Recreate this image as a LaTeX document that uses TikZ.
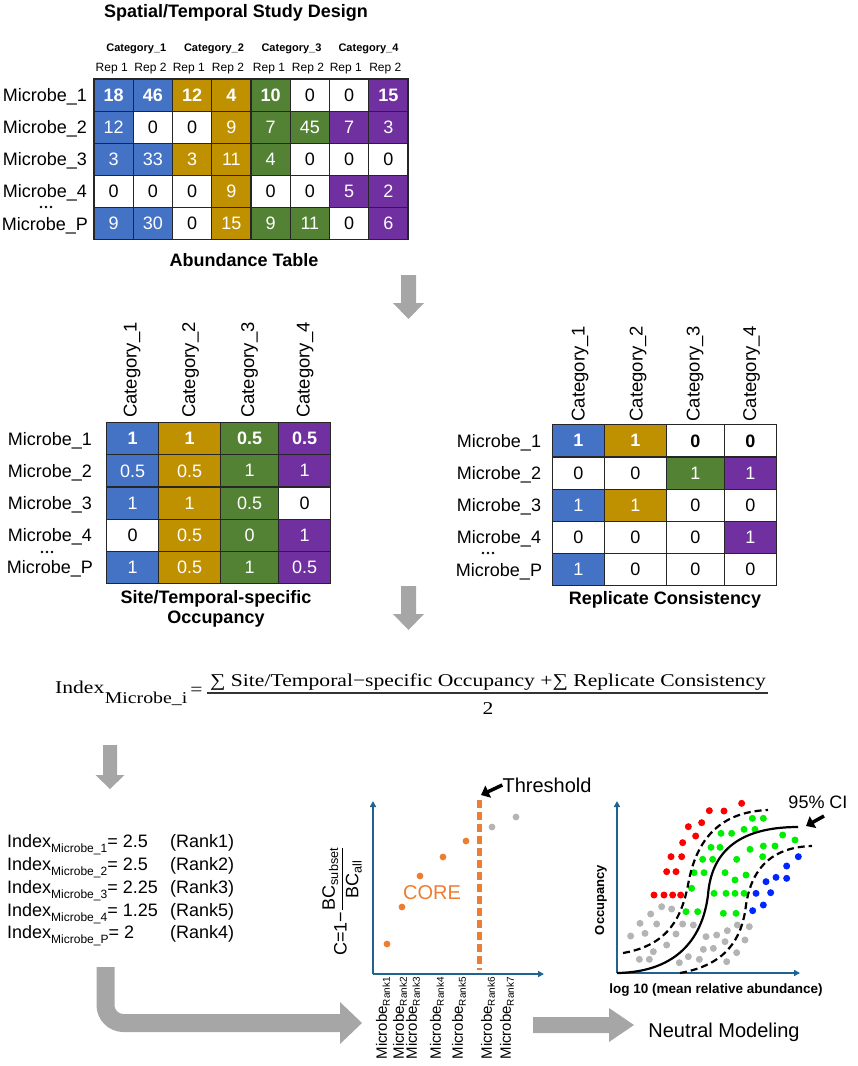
\documentclass[tikz,border=0pt]{standalone}
\usepackage{fontspec}
\usepackage{amsmath}
\setmainfont{Liberation Sans}
\newfontfamily\formulafont[FakeStretch=1.2]{Liberation Serif}
\usetikzlibrary{arrows.meta}

\definecolor{catblue}{HTML}{4472C4}
\definecolor{catgold}{HTML}{BF9000}
\definecolor{catgreen}{HTML}{548235}
\definecolor{catpurple}{HTML}{7030A0}
\definecolor{coreorange}{HTML}{ED7D31}
\definecolor{axisblue}{HTML}{1F6391}
\definecolor{arrowgrey}{HTML}{A6A6A6}
\definecolor{dotgrey}{HTML}{B4B4B4}
\definecolor{dotred}{HTML}{FF0000}
\definecolor{dotgreen}{HTML}{00EE00}
\definecolor{dotblue}{HTML}{0026FF}

\newcommand{\fsz}[1]{\fontsize{#1}{#1}\selectfont}
\newcommand{\idxsub}[1]{\raisebox{-5pt}{\fsz{12}#1}}
\newcommand{\ranksub}[1]{\raisebox{-3pt}{\fsz{10}#1}}

\begin{document}
\begin{tikzpicture}[x=1pt, y=-1pt,
    cell/.style={draw=black!85, line width=1.2pt, inner sep=0pt, text=white, font=\fsz{18}},
    topcell/.style={cell, minimum width=39.25, minimum height=32.1},
    colA/.style={cell, minimum width=52, minimum height=32.2},
    colB/.style={cell, minimum width=62, minimum height=32.2},
    colC/.style={cell, minimum width=58, minimum height=32.2},
    colD/.style={cell, minimum width=52, minimum height=32.2},
    blu/.style={fill=catblue},
    gld/.style={fill=catgold},
    grn/.style={fill=catgreen},
    pur/.style={fill=catpurple},
    wht/.style={fill=white, text=black},
    bld/.style={font=\fsz{18}\bfseries},
    lbl/.style={inner sep=0pt, font=\fsz{18}, anchor=base},
    caption/.style={inner sep=0pt, font=\fsz{18}\bfseries, anchor=base},
    smallhead/.style={inner sep=0pt, font=\fsz{11}\bfseries, anchor=base},
    replab/.style={inner sep=0pt, font=\fsz{12}, anchor=base},
    vhead/.style={inner sep=0pt, font=\fsz{18.5}, rotate=90, anchor=west},
    frm/.style={inner sep=0pt, font=\formulafont\fsz{18}},
    blockarrow/.style={fill=arrowgrey},
    plotaxis/.style={draw=axisblue, line width=1.5pt, -{Triangle[length=6pt,width=6pt]}},
    pointer/.style={line width=3.5pt, -{Triangle[length=8pt,width=13pt]}},
    ranklab/.style={inner sep=0pt, font=\fsz{15}, rotate=90, anchor=east}]

    \useasboundingbox (0,0) rectangle (858,1066);

    % abundance table
    \node[caption] (title) at (236,17) {Spatial/Temporal Study Design};

    \node[smallhead] (cat1) at (136.3,51) {Category\_1};
    \node[smallhead] (cat2) at (214,51) {Category\_2};
    \node[smallhead] (cat3) at (291.5,51) {Category\_3};
    \node[smallhead] (cat4) at (368.5,51) {Category\_4};

    \node[replab] (rep11) at (111.7,71) {Rep 1};
    \node[replab] (rep12) at (150.5,71) {Rep 2};
    \node[replab] (rep21) at (188.8,71) {Rep 1};
    \node[replab] (rep22) at (228,71) {Rep 2};
    \node[replab] (rep31) at (269,71) {Rep 1};
    \node[replab] (rep32) at (308,71) {Rep 2};
    \node[replab] (rep41) at (345.8,71) {Rep 1};
    \node[replab] (rep42) at (385.3,71) {Rep 2};

    \node[lbl] (ra1) at (45,101.5) {Microbe\_1};
    \node[lbl] (ra2) at (45,133.6) {Microbe\_2};
    \node[lbl] (ra3) at (45,165.8) {Microbe\_3};
    \node[lbl] (ra4) at (45,197.9) {Microbe\_4};
    \fill (41,207) circle (1.4) (46,207) circle (1.4) (51,207) circle (1.4);
    \node[lbl] (ra5) at (45,230) {Microbe\_P};

    \node[topcell, blu, bld] (t11) at (113.6,95.05) {18};
    \node[topcell, blu, bld] (t12) at (152.9,95.05) {46};
    \node[topcell, gld, bld] (t13) at (192.1,95.05) {12};
    \node[topcell, gld, bld] (t14) at (231.4,95.05) {4};
    \node[topcell, grn, bld] (t15) at (270.6,95.05) {10};
    \node[topcell, wht] (t16) at (309.9,95.05) {0};
    \node[topcell, wht] (t17) at (349.1,95.05) {0};
    \node[topcell, pur, bld] (t18) at (388.4,95.05) {15};

    \node[topcell, blu] (t21) at (113.6,127.15) {12};
    \node[topcell, wht] (t22) at (152.9,127.15) {0};
    \node[topcell, wht] (t23) at (192.1,127.15) {0};
    \node[topcell, gld] (t24) at (231.4,127.15) {9};
    \node[topcell, grn] (t25) at (270.6,127.15) {7};
    \node[topcell, grn] (t26) at (309.9,127.15) {45};
    \node[topcell, pur] (t27) at (349.1,127.15) {7};
    \node[topcell, pur] (t28) at (388.4,127.15) {3};

    \node[topcell, blu] (t31) at (113.6,159.25) {3};
    \node[topcell, blu] (t32) at (152.9,159.25) {33};
    \node[topcell, gld] (t33) at (192.1,159.25) {3};
    \node[topcell, gld] (t34) at (231.4,159.25) {11};
    \node[topcell, grn] (t35) at (270.6,159.25) {4};
    \node[topcell, wht] (t36) at (309.9,159.25) {0};
    \node[topcell, wht] (t37) at (349.1,159.25) {0};
    \node[topcell, wht] (t38) at (388.4,159.25) {0};

    \node[topcell, wht] (t41) at (113.6,191.35) {0};
    \node[topcell, wht] (t42) at (152.9,191.35) {0};
    \node[topcell, wht] (t43) at (192.1,191.35) {0};
    \node[topcell, gld] (t44) at (231.4,191.35) {9};
    \node[topcell, wht] (t45) at (270.6,191.35) {0};
    \node[topcell, wht] (t46) at (309.9,191.35) {0};
    \node[topcell, pur] (t47) at (349.1,191.35) {5};
    \node[topcell, pur] (t48) at (388.4,191.35) {2};

    \node[topcell, blu] (t51) at (113.6,223.45) {9};
    \node[topcell, blu] (t52) at (152.9,223.45) {30};
    \node[topcell, wht] (t53) at (192.1,223.45) {0};
    \node[topcell, gld] (t54) at (231.4,223.45) {15};
    \node[topcell, grn] (t55) at (270.6,223.45) {9};
    \node[topcell, grn] (t56) at (309.9,223.45) {11};
    \node[topcell, wht] (t57) at (349.1,223.45) {0};
    \node[topcell, pur] (t58) at (388.4,223.45) {6};

    \node[caption] (abund) at (244,266) {Abundance Table};

    \fill[blockarrow] (401,275) -- (416,275) -- (416,303) -- (424,303) -- (408.5,319) -- (393,303) -- (401,303) -- cycle;

    % occupancy table
    \node[vhead] (oh1) at (132,418) {Category\_1};
    \node[vhead] (oh2) at (190.5,418) {Category\_2};
    \node[vhead] (oh3) at (249.5,418) {Category\_3};
    \node[vhead] (oh4) at (305,418) {Category\_4};

    \node[lbl] (rb1) at (50,445.1) {Microbe\_1};
    \node[lbl] (rb2) at (50,477.3) {Microbe\_2};
    \node[lbl] (rb3) at (50,509.5) {Microbe\_3};
    \node[lbl] (rb4) at (50,541.7) {Microbe\_4};
    \fill (42,552) circle (1.4) (47,552) circle (1.4) (52,552) circle (1.4);
    \node[lbl] (rb5) at (50,573.9) {Microbe\_P};

    \node[colA, blu, bld] (o11) at (132.7,438.6) {1};
    \node[colB, gld, bld] (o12) at (189.7,438.6) {1};
    \node[colC, grn, bld] (o13) at (249.7,438.6) {0.5};
    \node[colD, pur, bld] (o14) at (304.7,438.6) {0.5};
    \node[colA, blu] (o21) at (132.7,470.8) {0.5};
    \node[colB, gld] (o22) at (189.7,470.8) {0.5};
    \node[colC, grn] (o23) at (249.7,470.8) {1};
    \node[colD, pur] (o24) at (304.7,470.8) {1};
    \node[colA, blu] (o31) at (132.7,503) {1};
    \node[colB, gld] (o32) at (189.7,503) {1};
    \node[colC, grn] (o33) at (249.7,503) {0.5};
    \node[colD, wht] (o34) at (304.7,503) {0};
    \node[colA, wht] (o41) at (132.7,535.2) {0};
    \node[colB, gld] (o42) at (189.7,535.2) {0.5};
    \node[colC, grn] (o43) at (249.7,535.2) {0};
    \node[colD, pur] (o44) at (304.7,535.2) {1};
    \node[colA, blu] (o51) at (132.7,567.4) {1};
    \node[colB, gld] (o52) at (189.7,567.4) {0.5};
    \node[colC, grn] (o53) at (249.7,567.4) {1};
    \node[colD, pur] (o54) at (304.7,567.4) {0.5};

    \node[caption, anchor=center, align=center, font=\fontsize{18}{20.5}\selectfont\bfseries] (occ) at (216,609) {Site/Temporal-specific\\Occupancy};

    % replicate table
    \node[vhead] (ph1) at (580,421.7) {Category\_1};
    \node[vhead] (ph2) at (638,421.7) {Category\_2};
    \node[vhead] (ph3) at (695,421.7) {Category\_3};
    \node[vhead] (ph4) at (751.7,421.7) {Category\_4};

    \node[lbl] (rc1) at (499,447.3) {Microbe\_1};
    \node[lbl] (rc2) at (499,479.5) {Microbe\_2};
    \node[lbl] (rc3) at (499,511.7) {Microbe\_3};
    \node[lbl] (rc4) at (499,543.9) {Microbe\_4};
    \fill (483,553) circle (1.4) (488,553) circle (1.4) (493,553) circle (1.4);
    \node[lbl] (rc5) at (499,576.1) {Microbe\_P};

    \node[colA, blu, bld] (p11) at (578.3,440.8) {1};
    \node[colB, gld, bld] (p12) at (635.3,440.8) {1};
    \node[colC, wht, bld] (p13) at (695.3,440.8) {0};
    \node[colD, wht, bld] (p14) at (750.3,440.8) {0};
    \node[colA, wht] (p21) at (578.3,473) {0};
    \node[colB, wht] (p22) at (635.3,473) {0};
    \node[colC, grn] (p23) at (695.3,473) {1};
    \node[colD, pur] (p24) at (750.3,473) {1};
    \node[colA, blu] (p31) at (578.3,505.2) {1};
    \node[colB, gld] (p32) at (635.3,505.2) {1};
    \node[colC, wht] (p33) at (695.3,505.2) {0};
    \node[colD, wht] (p34) at (750.3,505.2) {0};
    \node[colA, wht] (p41) at (578.3,537.4) {0};
    \node[colB, wht] (p42) at (635.3,537.4) {0};
    \node[colC, wht] (p43) at (695.3,537.4) {0};
    \node[colD, pur] (p44) at (750.3,537.4) {1};
    \node[colA, blu] (p51) at (578.3,569.6) {1};
    \node[colB, wht] (p52) at (635.3,569.6) {0};
    \node[colC, wht] (p53) at (695.3,569.6) {0};
    \node[colD, wht] (p54) at (750.3,569.6) {0};

    \node[caption] (repcons) at (665,604.5) {Replicate Consistency};

    \fill[blockarrow] (401,586) -- (416,586) -- (416,614) -- (424,614) -- (408.5,630) -- (393,614) -- (401,614) -- cycle;

    % index formula
    \node[frm, anchor=base west] (idx) at (55,693) {Index};
    \node[frm, anchor=base west, font=\formulafont\fsz{16.5}] (idxsub) at ([yshift=-10pt]idx.base east) {Microbe\_i};
    \node[frm] (eq) at (196.5,691) {=};
    \coordinate (barL) at (207,693);
    \coordinate (barR) at (768,693);
    \draw[line width=1.3pt, black!80] (barL) -- (barR);
    \node[frm, anchor=base] (num) at (488,686) {∑ Site/Temporal−specific Occupancy +∑ Replicate Consistency};
    \node[frm, anchor=base] (den) at (488,714) {2};

    \fill[blockarrow] (103,745) -- (117,745) -- (117,775) -- (124.5,775) -- (110,789) -- (95.5,775) -- (103,775) -- cycle;

    % ranking
    \node[lbl, anchor=base west] (i1) at (7,847) {Index\idxsub{Microbe\_1}= 2.5};
    \node[lbl, anchor=base west] (i2) at (7,870) {Index\idxsub{Microbe\_2}= 2.5};
    \node[lbl, anchor=base west] (i3) at (7,893) {Index\idxsub{Microbe\_3}= 2.25};
    \node[lbl, anchor=base west] (i4) at (7,916) {Index\idxsub{Microbe\_4}= 1.25};
    \node[lbl, anchor=base west] (i5) at (7,938) {Index\idxsub{Microbe\_P}= 2};
    \node[lbl, anchor=base west] (k1) at (170,847) {(Rank1)};
    \node[lbl, anchor=base west] (k2) at (170,870) {(Rank2)};
    \node[lbl, anchor=base west] (k3) at (170,893) {(Rank3)};
    \node[lbl, anchor=base west] (k4) at (170,916) {(Rank5)};
    \node[lbl, anchor=base west] (k5) at (170,938) {(Rank4)};

    \draw[draw=arrowgrey, line width=18pt, rounded corners=18pt] (105.5,967) -- (105.5,1023) -- (341,1023);
    \fill[blockarrow] (340,1002) -- (362,1023) -- (340,1044) -- cycle;

    % core plot
    \coordinate (corigin) at (373,974);
    \coordinate (ctop) at (373,801);
    \coordinate (cright) at (544,974);
    \draw[plotaxis] (corigin) -- (ctop);
    \draw[plotaxis] (corigin) -- (cright);
    \fill[coreorange] (387,944) circle (3.4) (402,907) circle (3.4) (420,876) circle (3.4)
        (443,857) circle (3.4) (466,841) circle (3.4);
    \fill[dotgrey] (492,827) circle (3.4) (516,817) circle (3.4);
    \draw[coreorange, line width=5pt, dash pattern=on 8pt off 4pt] (479,800) -- (479,970);
    \node[inner sep=0pt, font=\fsz{20}] (thr) at (547,785) {Threshold};
    \coordinate (thrtip) at (481,795);
    \draw[pointer] (thr.west) -- (thrtip);
    \node[inner sep=0pt, font=\fsz{20}, text=coreorange] (core) at (432,893) {CORE};
    \node[inner sep=0pt, font=\fsz{18}, rotate=90] (ylab) at (342,901) {C=1−$\dfrac{\text{BC}_{\text{subset}}}{\text{BC}_{\text{all}}}$};

    \node[ranklab] (m1) at (383,977) {Microbe\ranksub{Rank1}};
    \node[ranklab] (m2) at (400,977) {Microbe\ranksub{Rank2}};
    \node[ranklab] (m3) at (413,977) {Microbe\ranksub{Rank3}};
    \node[ranklab] (m4) at (437,977) {Microbe\ranksub{Rank4}};
    \node[ranklab] (m5) at (459,977) {Microbe\ranksub{Rank5}};
    \node[ranklab] (m6) at (488,977) {Microbe\ranksub{Rank6}};
    \node[ranklab] (m7) at (507,977) {Microbe\ranksub{Rank7}};

    \fill[blockarrow] (533,1017) -- (609,1017) -- (609,1008) -- (634,1025) -- (609,1042) -- (609,1033) -- (533,1033) -- cycle;

    % neutral model plot
    \coordinate (norigin) at (617,973);
    \coordinate (ntop) at (617,801);
    \coordinate (nright) at (800,973);
    \draw[plotaxis] (norigin) -- (ntop);
    \draw[plotaxis] (norigin) -- (nright);

    \begin{scope}[shift={(600,760)}, scale=1/3]
        \fill[dotred] (425,130) circle (10.5) (328,152) circle (10.5) (372,153) circle (10.5)
            (305,188) circle (10.5) (265,200) circle (10.5) (287,228) circle (10.5)
            (248,248) circle (10.5) (213,290) circle (10.5) (245,290) circle (10.5)
            (200,335) circle (10.5) (228,335) circle (10.5) (162,405) circle (10.5)
            (192,405) circle (10.5) (218,405) circle (10.5) (242,405) circle (10.5);
        \fill[dotgreen] (457,175) circle (10.5) (490,175) circle (10.5) (432,208) circle (10.5)
            (465,208) circle (10.5) (363,220) circle (10.5) (395,220) circle (10.5)
            (548,225) circle (10.5) (585,240) circle (10.5) (333,262) circle (10.5)
            (360,262) circle (10.5) (450,268) circle (10.5) (490,258) circle (10.5)
            (525,258) circle (10.5) (308,298) circle (10.5) (338,298) circle (10.5)
            (410,298) circle (10.5) (488,290) circle (10.5) (282,338) circle (10.5)
            (312,338) circle (10.5) (375,338) circle (10.5) (438,345) circle (10.5)
            (405,360) circle (10.5) (275,385) circle (10.5) (342,400) circle (10.5)
            (378,400) circle (10.5) (405,400) circle (10.5) (432,400) circle (10.5)
            (258,455) circle (10.5) (293,455) circle (10.5) (370,460) circle (10.5)
            (408,460) circle (10.5);
        \fill[dotblue] (595,290) circle (10.5) (560,318) circle (10.5) (560,355) circle (10.5)
            (528,352) circle (10.5) (498,365) circle (10.5) (512,398) circle (10.5)
            (468,400) circle (10.5) (490,435) circle (10.5) (458,452) circle (10.5);
        \fill[dotgrey] (185,440) circle (10.5) (215,447) circle (10.5) (152,462) circle (10.5)
            (120,490) circle (10.5) (170,492) circle (10.5) (248,492) circle (10.5)
            (280,495) circle (10.5) (92,528) circle (10.5) (135,520) circle (10.5)
            (228,522) circle (10.5) (318,530) circle (10.5) (350,525) circle (10.5)
            (382,512) circle (10.5) (412,495) circle (10.5) (448,500) circle (10.5)
            (200,555) circle (10.5) (310,568) circle (10.5) (340,565) circle (10.5)
            (375,545) circle (10.5) (435,540) circle (10.5) (160,575) circle (10.5)
            (265,590) circle (10.5) (298,598) circle (10.5) (410,578) circle (10.5)
            (118,598) circle (10.5) (148,598) circle (10.5) (238,608) circle (10.5)
            (380,605) circle (10.5);
    \end{scope}

    \draw[line width=2.2pt] (617,973) .. controls (680,972) and (703,935) .. (708,895)
        .. controls (711,855) and (735,827) .. (798,827);
    \draw[line width=2.2pt, dash pattern=on 7pt off 4pt] (623,953) .. controls (670,945) and (682,915) .. (688,885)
        .. controls (695,845) and (715,812) .. (768,810);
    \draw[line width=2.2pt, dash pattern=on 7pt off 4pt] (680,973) .. controls (725,965) and (742,940) .. (746,905)
        .. controls (752,865) and (775,847) .. (812,846);

    \node[inner sep=0pt, font=\fsz{18}] (ci) at (818,802) {95\% CI};
    \coordinate (citail) at (824,816);
    \coordinate (citip) at (806,826);
    \draw[pointer] (citail) -- (citip);

    \node[inner sep=0pt, font=\fsz{13}\bfseries, rotate=90] (occy) at (601,900) {Occupancy};
    \node[inner sep=0pt, font=\fsz{13.5}\bfseries] (xlab) at (716,990) {log 10 (mean relative abundance)};
    \node[inner sep=0pt, font=\fsz{20}] (neutral) at (724,1032) {Neutral Modeling};
\end{tikzpicture}
\end{document}
